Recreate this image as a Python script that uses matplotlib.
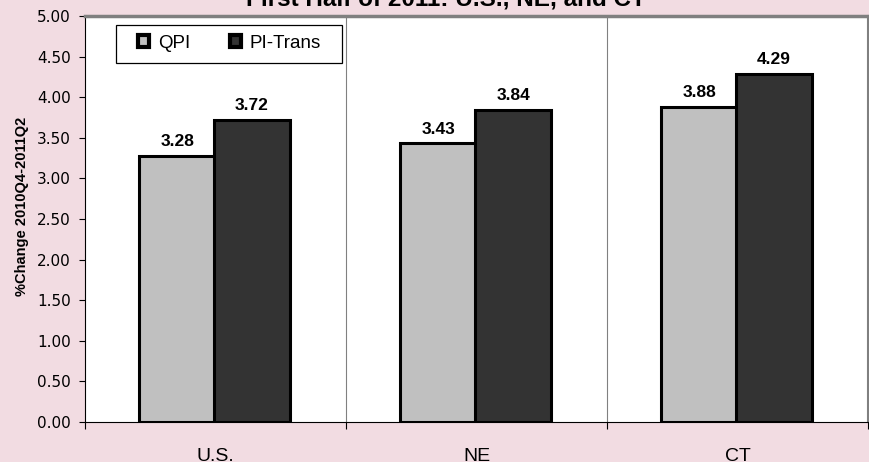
import matplotlib.pyplot as plt
from matplotlib.patches import Rectangle, Patch
import numpy as np

regions = ["U.S.", "NE", "CT"]
qpi = [3.28, 3.43, 3.88]
pi_trans = [3.72, 3.84, 4.29]
series_names = ["QPI", "PI-Trans"]
title = "First Half of 2011: U.S., NE, and CT"
ylabel = "%Change 2010Q4-2011Q2"

plt.rcParams["font.family"] = ["Liberation Sans", "DejaVu Sans"]
bg = "#F2DCE2"
colors = ["#C0C0C0", "#333333"]

fig = plt.figure(figsize=(8.7, 4.62), dpi=100, facecolor=bg)
ax = fig.add_axes([0.0977, 0.0866, 0.9, 0.8788])
ax.set_facecolor("white")

x = np.arange(len(regions)) + 0.5
w = 0.29
b1 = ax.bar(x - 0.147, qpi, w, color=colors[0], edgecolor="black", linewidth=2.2, zorder=3)
b2 = ax.bar(x + 0.14, pi_trans, w, color=colors[1], edgecolor="black", linewidth=2.2, zorder=3)

for bars in (b1, b2):
    for r in bars:
        ax.annotate(f"{r.get_height():.2f}", (r.get_x() + r.get_width() / 2, r.get_height()),
                    xytext=(0, 5), textcoords="offset points", ha="center", va="bottom",
                    fontsize=12.5, fontweight="bold")

# category separators
for s in range(1, len(regions)):
    ax.axvline(s, color="#808080", linewidth=0.8, zorder=1)

ax.set_xlim(0, len(regions))
ax.set_ylim(0, 5)
yt = np.arange(0, 5.01, 0.5)
ax.set_yticks(yt)
ax.set_yticklabels([f"{v:.2f}" for v in yt], fontsize=11, family="DejaVu Sans")
ax.set_xticks(range(len(regions) + 1))
ax.set_xticklabels([])
ax.set_xticks(x, minor=True)
ax.set_xticklabels(regions, minor=True, fontsize=14)
ax.tick_params(axis="x", which="minor", length=0, pad=18.5)
ax.tick_params(axis="x", which="major", length=5, direction="out")
ax.tick_params(axis="y", length=4, direction="out", pad=6)

ax.spines["top"].set_color("#808080")
ax.spines["top"].set_linewidth(2.5)
ax.spines["right"].set_color("#808080")
ax.spines["right"].set_linewidth(1.5)
ax.spines["left"].set_color("black")
ax.spines["bottom"].set_color("black")

ax.set_ylabel(ylabel, fontsize=10.5, fontweight="bold")
ax.yaxis.set_label_coords(-0.071, 0.53)

# legend box drawn separately so its padding can follow the reference
ax.add_patch(Rectangle((0.0396, 0.884), 0.2884, 0.094, transform=ax.transAxes,
                       facecolor="white", edgecolor="black", linewidth=0.9, zorder=5))
handles = [Patch(facecolor=c, edgecolor="black", linewidth=3) for c in colors]
leg = ax.legend(handles, series_names, loc="center left", bbox_to_anchor=(0.068, 0.933), ncol=2,
                fontsize=13.5, frameon=False, handlelength=0.6, handleheight=0.6,
                handletextpad=0.45, columnspacing=2.1, borderpad=0, borderaxespad=0)
leg.set_zorder(6)

fig.text(0.513, 0.988, title, ha="center", va="baseline", fontsize=17.5, fontweight="bold")

fig.savefig("out.png", dpi=100, facecolor=bg)
